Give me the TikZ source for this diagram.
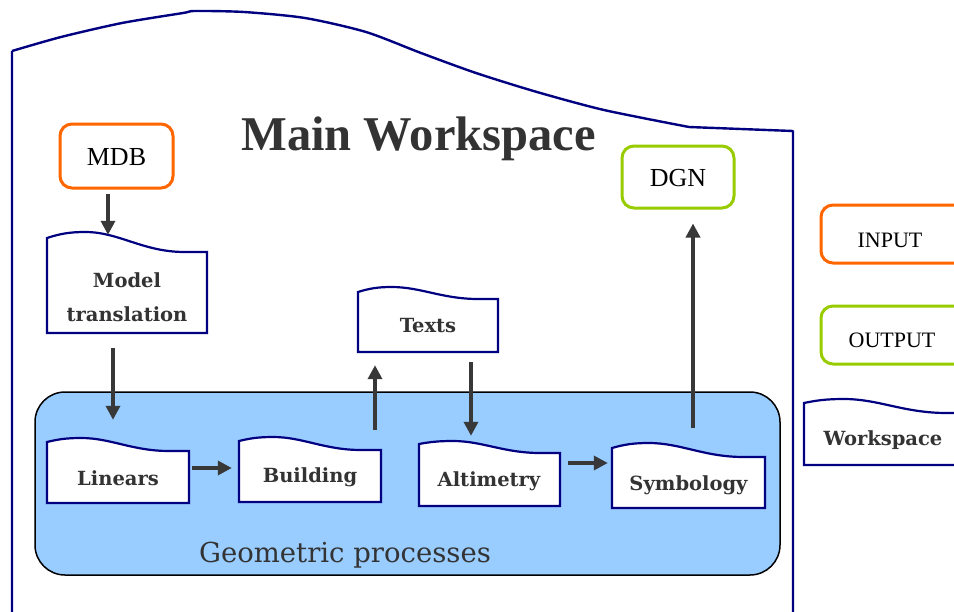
\documentclass[tikz,border=0pt]{standalone}
\usepackage{fontspec}
\setmainfont{Liberation Serif}
\newfontfamily\dvs{DejaVu Serif}
\usetikzlibrary{arrows.meta}
\definecolor{wsblue}{HTML}{000080}
\definecolor{inorange}{HTML}{FF6600}
\definecolor{outgreen}{HTML}{99CC00}
\definecolor{geofill}{HTML}{99CCFF}
\definecolor{txtgray}{HTML}{333333}
\definecolor{arrgray}{HTML}{383838}
\tikzset{
  docline/.style={fill=white,draw=wsblue,line width=2.2pt,line join=miter},
  boxnode/.style={inner sep=0pt,draw=none},
  lbl/.style={font=\dvs\bfseries\fontsize{19.5}{34}\selectfont,text=txtgray,inner sep=0pt,align=center},
  inbox/.style={draw=inorange,line width=3pt,rounded corners=12pt,inner sep=0pt},
  outbox/.style={draw=outgreen,line width=3pt,rounded corners=12pt,inner sep=0pt},
  iotext/.style={font=\fontsize{26}{30}\selectfont,inner sep=0pt},
  legtext/.style={font=\fontsize{22}{26}\selectfont,inner sep=0pt},
  arr/.style={draw=arrgray,line width=3.4pt,-{Triangle[length=14pt,width=14pt]}},
}
% #1 name, #2 x0, #3 y0 (peak), #4 x1, #5 y1 (bottom), #6 left drop, #7 right drop
\newcommand\docbox[7]{%
  \pgfmathsetmacro\dw{#4-#2}%
  \pgfmathsetmacro\dh{#5-#3}%
  \draw[docline] (#2,#3+#6) .. controls (#2+0.08*\dw,#3+0.3*#6) and (#2+0.14*\dw,#3) .. (#2+0.24*\dw,#3)
     .. controls (#2+0.45*\dw,#3) and (#2+0.6*\dw,#3+#7) .. (#2+0.86*\dw,#3+#7)
     -- (#4,#3+#7) -- (#4,#5) -- (#2,#5) -- cycle;
  \node[boxnode,minimum width=\dw pt,minimum height=\dh pt] (#1) at ({(#2+#4)/2},{(#3+#5)/2}) {};
}
\begin{document}
\begin{tikzpicture}[x=1pt,y=-1pt]
\useasboundingbox (0,0) rectangle (954,611);
\fill[white] (0,0) rectangle (954,611);
% main workspace outline
\draw[wsblue,line width=2.4pt,line join=round] (12,620) -- (12,51)
  plot[smooth,tension=0.45] coordinates {(12,51) (61,37) (122,23) (183,13) (195,11) (244,12) (305,18) (366,32) (421,53) (476,73) (537,92) (604,110) (689,127)}
  -- (793,131) -- (793,620);
\node[font=\bfseries\fontsize{48.5}{50}\selectfont,text=txtgray,inner sep=0pt,anchor=base] (title) at (418.5,150) {Main Workspace};
% geometric processes region
\node[draw=black,line width=1.5pt,fill=geofill,rounded corners=30pt,minimum width=745pt,minimum height=183pt,inner sep=0pt] (geo) at (407.5,483.5) {};
\node[font=\dvs\fontsize{27.5}{30}\selectfont,text=txtgray,inner sep=0pt,anchor=base] (geot) at (345,562) {Geometric processes};
% input / output
\node[inbox,minimum width=113pt,minimum height=64pt] (mdb) at (116.5,156) {};
\node[iotext] (mdbt) at (116.5,157) {MDB};
\node[outbox,minimum width=112pt,minimum height=62pt] (dgn) at (678,177) {};
\node[iotext] (dgnt) at (678,178) {DGN};
% document boxes
\docbox{model}{47}{232}{207}{333}{6}{20}
\node[lbl] (modelt) at (127,297) {Model\\translation};
\docbox{linears}{47}{438}{189}{503}{4}{13}
\node[lbl] (linearst) at (118,478) {Linears};
\docbox{building}{239}{437}{381}{502}{4}{13}
\node[lbl] (buildingt) at (310,477) {Building};
\docbox{texts}{358}{287}{498}{352}{5}{12}
\node[lbl] (textst) at (428,326) {Texts};
\docbox{alti}{419}{441}{560}{506}{3}{12}
\node[lbl] (altit) at (489,481) {Altimetry};
\docbox{symb}{612}{443}{765}{508}{5}{14}
\node[lbl] (symbt) at (688.5,485) {Symbology};
% legend
\node[inbox,minimum width=160pt,minimum height=58pt] (leginput) at (901,234) {};
\node[legtext] (leginputt) at (890,240) {INPUT};
\node[outbox,minimum width=160pt,minimum height=58pt] (legoutput) at (901,335) {};
\node[legtext] (legoutputt) at (892,340) {OUTPUT};
\docbox{legws}{804}{399}{970}{465}{4}{14}
\node[lbl] (legwst) at (883,440) {Workspace};
% connectors
\draw[arr,shorten <=4pt,shorten >=-3pt] ([xshift=-8.5pt]mdb.south) -- ([xshift=-8.5pt]mdb.south |- model.north);
\draw[arr,shorten <=15pt,shorten >=18pt] ([xshift=-14pt]model.south) -- ([xshift=-14pt]model.south |- linears.north);
\draw[arr,shorten <=3pt,shorten >=7pt] ([yshift=2.5pt]linears.east) -- ([yshift=2.5pt]linears.east -| building.west);
\draw[arr,shorten <=7pt,shorten >=13pt] ([xshift=65pt]building.north) -- ([xshift=65pt]building.north |- texts.south);
\draw[arr,shorten <=10pt,shorten >=5pt] ([xshift=43pt]texts.south) -- ([xshift=43pt]texts.south |- alti.north);
\draw[arr,shorten <=8pt,shorten >=4pt] ([yshift=10.5pt]alti.east) -- ([yshift=10.5pt]alti.east -| symb.west);
\draw[arr,shorten <=15pt,shorten >=14pt] ([xshift=4.5pt]symb.north) -- ([xshift=4.5pt]symb.north |- dgn.south);
\end{tikzpicture}
\end{document}
